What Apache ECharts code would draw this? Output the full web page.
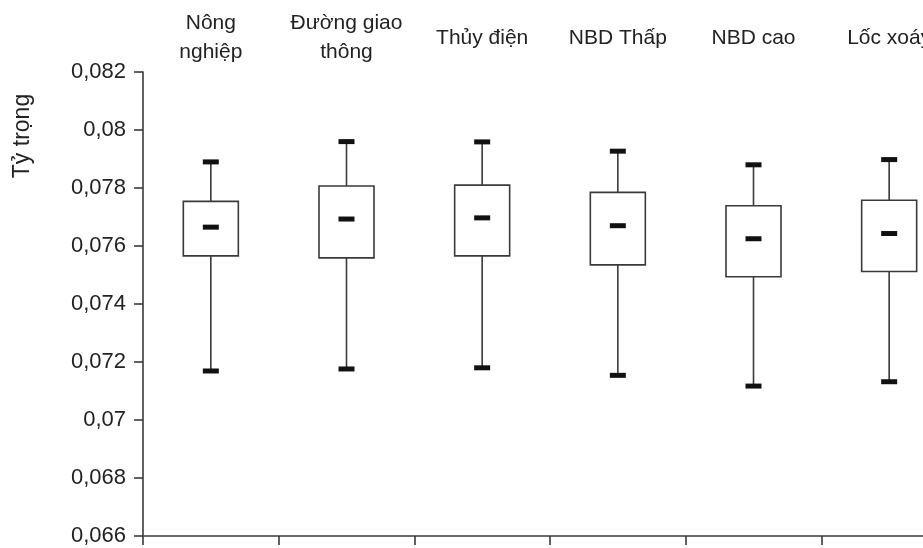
<!DOCTYPE html>
<html>
<head>
<meta charset="utf-8">
<script src="https://cdn.jsdelivr.net/npm/echarts@6/dist/echarts.min.js"></script>
<style>
  html, body { margin: 0; padding: 0; background: #fff; }
  #chart { width: 923px; height: 548px; }
</style>
</head>
<body>
<div id="chart"></div>
<script>
// Land-use groups shown along the top
const categories = ['Nông\nnghiệp', 'Đường giao\nthông', 'Thủy điện', 'NBD Thấp', 'NBD cao', 'Lốc xoáy'];

// Five-number summaries per group
const whiskerLow  = [0.07169, 0.07176, 0.07180, 0.07154, 0.07117, 0.07132];
const quartile1   = [0.07566, 0.07559, 0.07566, 0.07535, 0.07494, 0.07512];
const medians     = [0.07665, 0.07693, 0.07697, 0.07670, 0.07625, 0.07643];
const quartile3   = [0.07754, 0.07807, 0.07810, 0.07785, 0.07739, 0.07758];
const whiskerHigh = [0.07890, 0.07960, 0.07959, 0.07927, 0.07880, 0.07898];

// Value axis range
const yMin = 0.066, yMax = 0.082, yStep = 0.002;
const yTitle = 'Tỷ trọng';

const FONT = "'Liberation Sans', Arial, sans-serif";
const LINE = '#3a3a3a';
const INK = '#111';

const boxData = categories.map((c, i) => [i, whiskerLow[i], quartile1[i], medians[i], quartile3[i], whiskerHigh[i]]);

function renderBox(params, api) {
  const idx = api.value(0);
  const cx = api.coord([idx, yMin])[0];
  const py = k => api.coord([idx, api.value(k)])[1];
  const lo = py(1), q1 = py(2), med = py(3), q3 = py(4), hi = py(5);
  const boxW = 55, capW = 16, capH = 5;
  const lineStyle = { stroke: LINE, lineWidth: 1.6, fill: null };
  return {
    type: 'group',
    children: [
      { type: 'line', shape: { x1: cx, y1: hi, x2: cx, y2: q3 }, style: lineStyle },
      { type: 'line', shape: { x1: cx, y1: q1, x2: cx, y2: lo }, style: lineStyle },
      { type: 'rect', shape: { x: cx - boxW / 2, y: q3, width: boxW, height: q1 - q3 },
        style: { fill: '#fff', stroke: LINE, lineWidth: 1.6 } },
      { type: 'rect', shape: { x: cx - capW / 2, y: hi - capH / 2, width: capW, height: capH }, style: { fill: INK } },
      { type: 'rect', shape: { x: cx - capW / 2, y: lo - capH / 2, width: capW, height: capH }, style: { fill: INK } },
      { type: 'rect', shape: { x: cx - capW / 2, y: med - capH / 2, width: capW, height: capH }, style: { fill: INK } }
    ]
  };
}

const chart = echarts.init(document.getElementById('chart'), null, { renderer: 'canvas' });
chart.setOption({
  animation: false,
  backgroundColor: '#fff',
  // plot area runs past the right edge of the canvas, so the last group is cut off
  grid: { left: 143, top: 72, width: 814, height: 464, containLabel: false, outerBoundsMode: 'none' },
  xAxis: [
    {
      type: 'category',
      data: categories,
      position: 'bottom',
      boundaryGap: true,
      axisLine: { show: true, lineStyle: { color: LINE, width: 1.6 } },
      axisTick: { show: true, length: 9, lineStyle: { color: LINE, width: 1.6 } },
      axisLabel: { show: false },
      splitLine: { show: false }
    },
    {
      type: 'category',
      data: categories,
      position: 'top',
      boundaryGap: true,
      axisLine: { show: false },
      axisTick: { show: false },
      axisLabel: {
        show: true, interval: 0, margin: 34, verticalAlign: 'middle',
        fontFamily: FONT, fontSize: 21, lineHeight: 29, color: '#222'
      },
      splitLine: { show: false }
    }
  ],
  yAxis: {
    type: 'value',
    min: yMin, max: yMax, interval: yStep,
    axisLine: { show: true, lineStyle: { color: LINE, width: 1.6 } },
    axisTick: { show: true, length: 9, lineStyle: { color: LINE, width: 1.6 } },
    axisLabel: {
      margin: 17, fontFamily: FONT, fontSize: 22, color: '#222',
      formatter: v => v.toFixed(3).replace(/0+$/, '').replace('.', ',')
    },
    splitLine: { show: false }
  },
  graphic: [
    {
      type: 'text', x: 23, y: 136, rotation: Math.PI / 2,
      style: { text: yTitle, fontFamily: FONT, fontSize: 23, fill: '#222', align: 'center', verticalAlign: 'middle' }
    }
  ],
  series: [
    {
      type: 'custom',
      xAxisIndex: 0,
      yAxisIndex: 0,
      renderItem: renderBox,
      encode: { x: 0, y: [1, 2, 3, 4, 5] },
      data: boxData
    }
  ]
});
</script>
</body>
</html>
